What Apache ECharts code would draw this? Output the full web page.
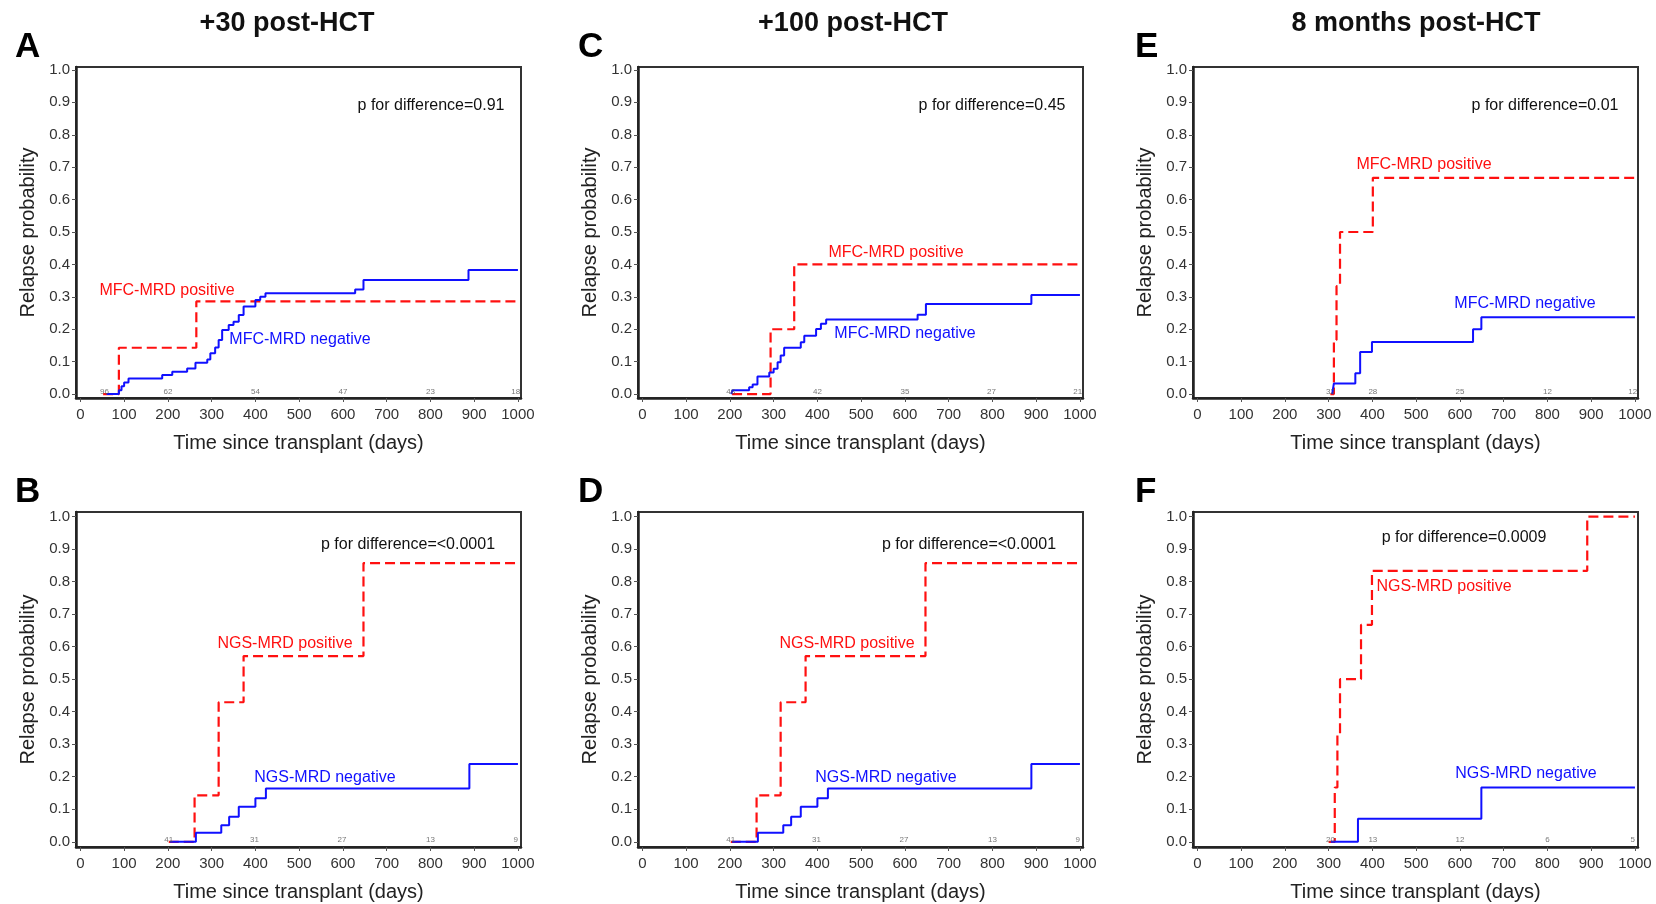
<!DOCTYPE html>
<html><head><meta charset="utf-8">
<script src="https://cdn.jsdelivr.net/npm/echarts@6/dist/echarts.min.js"></script>
<style>html,body{margin:0;padding:0;background:#fff}#c{width:1656px;height:904px}</style>
</head><body><div id="c"></div>
<script>
// ---------- data ----------
const xTickValues = [0,100,200,300,400,500,600,700,800,900,1000];
const yTickValues = [0,0.1,0.2,0.3,0.4,0.5,0.6,0.7,0.8,0.9,1.0];
const columnTitles = ['+30 post-HCT', '+100 post-HCT', '8 months post-HCT'];
const panelLetters = ['A', 'C', 'E', 'B', 'D', 'F'];
const pLabels = ['p for difference=0.91', 'p for difference=0.45', 'p for difference=0.01',
                 'p for difference=<0.0001', 'p for difference=<0.0001', 'p for difference=0.0009'];
const positiveLabels = ['MFC-MRD positive', 'MFC-MRD positive', 'MFC-MRD positive',
                        'NGS-MRD positive', 'NGS-MRD positive', 'NGS-MRD positive'];
const negativeLabels = ['MFC-MRD negative', 'MFC-MRD negative', 'MFC-MRD negative',
                        'NGS-MRD negative', 'NGS-MRD negative', 'NGS-MRD negative'];
const xAxisName = 'Time since transplant (days)';
const yAxisName = 'Relapse probability';

// Panel A (+30, MFC)
const aPositive = [[52,0],[88,0.143],[265,0.286],[1000,0.286]];
const aNegative = [[60,0],[88,0.012],[94,0.024],[100,0.036],[110,0.048],[187,0.059],[210,0.069],
  [244,0.079],[263,0.097],[290,0.107],[297,0.126],[308,0.144],[316,0.167],[324,0.198],[339,0.213],
  [350,0.223],[362,0.244],[373,0.27],[400,0.29],[411,0.30],[423,0.311],[628,0.323],[647,0.352],
  [887,0.383],[1000,0.383]];
const aAtRisk = [[55,'96'],[200,'62'],[400,'54'],[600,'47'],[800,'23'],[995,'18']];

// Panel C (+100, MFC)
const cPositive = [[205,0],[293,0.2],[347,0.4],[1000,0.4]];
const cNegative = [[203,0],[206,0.012],[244,0.021],[252,0.03],[263,0.054],[290,0.067],[300,0.078],
  [309,0.098],[316,0.119],[324,0.143],[362,0.16],[370,0.18],[397,0.201],[408,0.217],[420,0.23],
  [629,0.245],[648,0.278],[889,0.306],[1000,0.306]];
const cAtRisk = [[202,'48'],[400,'42'],[600,'35'],[798,'27'],[995,'21']];

// Panel E (8 months, MFC)
const ePositive = [[304,0],[312,0.167],[318,0.333],[326,0.5],[401,0.667],[1000,0.667]];
const eNegative = [[308,0],[312,0.033],[361,0.064],[372,0.13],[399,0.161],[630,0.2],[649,0.237],[1000,0.237]];
const eAtRisk = [[304,'32'],[401,'28'],[600,'25'],[800,'12'],[995,'12']];

// Panel B (+30, NGS)
const bPositive = [[202,0],[261,0.143],[316,0.429],[373,0.571],[647,0.857],[1000,0.857]];
const bNegative = [[205,0],[264,0.028],[322,0.051],[340,0.077],[362,0.108],[400,0.134],[424,0.164],[889,0.239],[1000,0.239]];
const bAtRisk = [[202,'41'],[398,'31'],[598,'27'],[800,'13'],[995,'9']];

// Panel D (+100, NGS)
const dPositive = [[202,0],[261,0.143],[316,0.429],[373,0.571],[647,0.857],[1000,0.857]];
const dNegative = [[205,0],[264,0.028],[322,0.051],[340,0.077],[362,0.108],[400,0.134],[424,0.164],[889,0.239],[1000,0.239]];
const dAtRisk = [[202,'41'],[398,'31'],[598,'27'],[800,'13'],[995,'9']];

// Panel F (8 months, NGS)
const fPositive = [[300,0],[314,0.167],[320,0.333],[326,0.5],[374,0.667],[399,0.833],[891,1.0],[1000,1.0]];
const fNegative = [[305,0],[367,0.071],[649,0.167],[1000,0.167]];
const fAtRisk = [[304,'20'],[401,'13'],[600,'12'],[800,'6'],[995,'5']];

// ---------- layout ----------
const FONT = '"Liberation Sans", Arial, Helvetica, sans-serif';
const RED = '#ff1010', BLUE = '#1010ff';
const panels = [
  {pos: aPositive, neg: aNegative, risk: aAtRisk, left: 76,   top: 67,  h: 331, yMin: -0.012, yMax: 1.009,
   pXY: [431,106], posXY: [167,291], negXY: [300,340]},
  {pos: cPositive, neg: cNegative, risk: cAtRisk, left: 638,  top: 67,  h: 331, yMin: -0.012, yMax: 1.009,
   pXY: [992,106], posXY: [896,253], negXY: [905,334]},
  {pos: ePositive, neg: eNegative, risk: eAtRisk, left: 1193, top: 67,  h: 331, yMin: -0.012, yMax: 1.009,
   pXY: [1545,106], posXY: [1424,165], negXY: [1525,304]},
  {pos: bPositive, neg: bNegative, risk: bAtRisk, left: 76,   top: 512, h: 335, yMin: -0.016, yMax: 1.014,
   pXY: [408,545], posXY: [285,644], negXY: [325,778]},
  {pos: dPositive, neg: dNegative, risk: dAtRisk, left: 638,  top: 512, h: 335, yMin: -0.016, yMax: 1.014,
   pXY: [969,545], posXY: [847,644], negXY: [886,778]},
  {pos: fPositive, neg: fNegative, risk: fAtRisk, left: 1193, top: 512, h: 335, yMin: -0.016, yMax: 1.014,
   pXY: [1464,538], posXY: [1444,587], negXY: [1526,774]}
];
const letterXY = [[15,47],[578,47],[1135,47],[15,492],[578,492],[1135,492]];
const titleXY = [[287,24],[853,24],[1416,24]];

const grids = [], xAxes = [], yAxes = [], series = [], graphics = [];
panels.forEach((p, i) => {
  grids.push({left: p.left, top: p.top, width: 445, height: p.h, show: true,
    borderColor: '#333', borderWidth: 2, backgroundColor: '#fff', containLabel: false});
  xAxes.push({type: 'value', gridIndex: i, min: -10, max: 1007,
    name: xAxisName, nameLocation: 'middle', nameGap: 35,
    nameTextStyle: {fontFamily: FONT, fontSize: 20, color: '#222'},
    axisLine: {show: true, onZero: false, lineStyle: {color: '#222', width: 2.5}},
    axisTick: {show: true, length: 4, customValues: xTickValues, lineStyle: {color: '#555', width: 1}},
    axisLabel: {show: true, customValues: xTickValues, margin: 9, fontFamily: FONT, fontSize: 15, color: '#333',
      formatter: v => String(Math.round(v))},
    splitLine: {show: false}});
  yAxes.push({type: 'value', gridIndex: i, min: p.yMin, max: p.yMax,
    name: yAxisName, nameLocation: 'middle', nameGap: 38,
    nameTextStyle: {fontFamily: FONT, fontSize: 20, color: '#222'},
    axisLine: {show: true, onZero: false, lineStyle: {color: '#222', width: 2.5}},
    axisTick: {show: true, length: 4, customValues: yTickValues, lineStyle: {color: '#555', width: 1}},
    axisLabel: {show: true, customValues: yTickValues, margin: 6, fontFamily: FONT, fontSize: 15, color: '#333',
      formatter: v => v.toFixed(1)},
    splitLine: {show: false}});
  series.push({type: 'line', xAxisIndex: i, yAxisIndex: i, data: p.pos, step: 'end', symbol: 'none',
    lineStyle: {color: RED, width: 2.2, type: [10, 5]}, z: 3, silent: true});
  series.push({type: 'line', xAxisIndex: i, yAxisIndex: i, data: p.neg, step: 'end', symbol: 'none',
    lineStyle: {color: BLUE, width: 2}, z: 4, silent: true});
  series.push({type: 'scatter', xAxisIndex: i, yAxisIndex: i,
    data: p.risk.map(r => [r[0], 0, r[1]]), symbolSize: 1, itemStyle: {color: 'rgba(0,0,0,0)'},
    label: {show: true, position: 'inside', offset: [0, -2], formatter: q => q.data[2],
      fontFamily: FONT, fontSize: 8, color: '#555'}, z: 5, silent: true});
  const ann = (xy, text, color) => graphics.push({type: 'text', x: xy[0], y: xy[1], z: 10,
    style: {text: text, fill: color, font: '16px ' + FONT, textAlign: 'center', textVerticalAlign: 'middle'}});
  ann(p.pXY, pLabels[i], '#111');
  ann(p.posXY, positiveLabels[i], RED);
  ann(p.negXY, negativeLabels[i], BLUE);
  graphics.push({type: 'text', x: letterXY[i][0], y: letterXY[i][1], z: 10,
    style: {text: panelLetters[i], fill: '#000', font: 'bold 35px ' + FONT, textAlign: 'left', textVerticalAlign: 'middle'}});
});
columnTitles.forEach((t, j) => graphics.push({type: 'text', x: titleXY[j][0], y: titleXY[j][1], z: 10,
  style: {text: t, fill: '#111', font: 'bold 27px ' + FONT, textAlign: 'center', textVerticalAlign: 'middle'}}));

const chart = echarts.init(document.getElementById('c'), null, {renderer: 'canvas'});
chart.setOption({animation: false, backgroundColor: '#fff', grid: grids, xAxis: xAxes, yAxis: yAxes,
  series: series, graphic: graphics});
</script></body></html>
